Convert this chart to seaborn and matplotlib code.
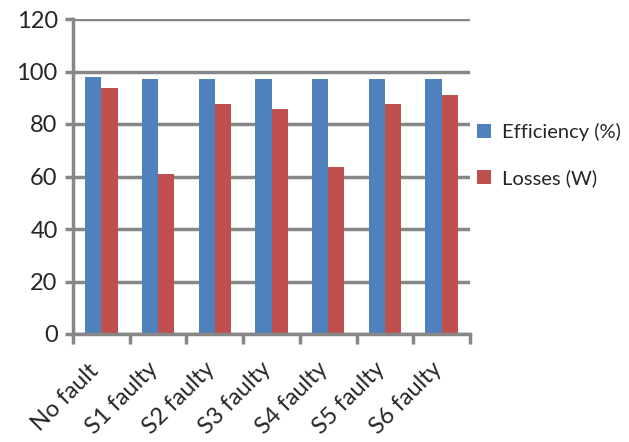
import pandas as pd
import numpy as np
import matplotlib.pyplot as plt
import matplotlib.transforms as mtransforms
import seaborn as sns

# dati
scenari = ['No fault', 'S1 faulty', 'S2 faulty', 'S3 faulty', 'S4 faulty', 'S5 faulty', 'S6 faulty']
efficiency = [97.8, 97.0, 97.0, 97.0, 97.0, 97.0, 97.0]
losses = [93.6, 61.1, 87.7, 85.7, 63.7, 87.7, 91.2]
series = ['Efficiency (%)', 'Losses (W)']

df = pd.DataFrame({
    'scenario': scenari * 2,
    'serie': [series[0]] * len(scenari) + [series[1]] * len(scenari),
    'valore': efficiency + losses,
})

sns.set_style('white')
plt.rcParams['font.family'] = ['Lato', 'DejaVu Sans']

fig = plt.figure(figsize=(6.29, 4.42), dpi=100)
ax = fig.add_axes([73 / 629, (442 - 334) / 442, (470 - 73) / 629, (334 - 19) / 442])

sns.barplot(data=df, x='scenario', y='valore', hue='serie', ax=ax,
            palette=['#4F81BD', '#C0504D'], width=0.57, saturation=1,
            linewidth=0, legend=True)

grey = '#878787'
ax.set_ylim(0, 120)
ax.set_xlim(-0.5, len(scenari) - 0.5)
ax.set_yticks(range(0, 121, 20))
ax.yaxis.grid(True, color=grey, linewidth=2.5)
ax.set_axisbelow(True)
for s in ['top', 'right']:
    ax.spines[s].set_visible(False)
for s in ['left', 'bottom']:
    ax.spines[s].set_color(grey)
    ax.spines[s].set_linewidth(2.5)

ax.set_xlabel('')
ax.set_ylabel('')
ax.tick_params(axis='y', length=6, width=2.5, color=grey, labelsize=17, pad=5, left=True)
ax.tick_params(axis='x', which='major', length=0, labelsize=17, pad=46)
ax.set_xticks(np.arange(-0.5, len(scenari)), minor=True)
ax.tick_params(axis='x', which='minor', length=7, width=2.5, color=grey, bottom=True)
# etichette centrate e spostate a sinistra, come in Excel
shift = mtransforms.ScaledTranslation(-36 / 100, 0, fig.dpi_scale_trans)
for label in ax.get_xticklabels():
    label.set_rotation(45)
    label.set_horizontalalignment('center')
    label.set_verticalalignment('center')
    label.set_rotation_mode('anchor')
    label.set_transform(label.get_transform() + shift)

ax.legend(loc='center left', bbox_to_anchor=(477 / 629, 0.65), bbox_transform=fig.transFigure,
          frameon=False, fontsize=14.5, handlelength=0.7, handleheight=0.7,
          handletextpad=0.55, labelspacing=1.4, borderaxespad=0, borderpad=0)

plt.savefig('out.png', dpi=100)
